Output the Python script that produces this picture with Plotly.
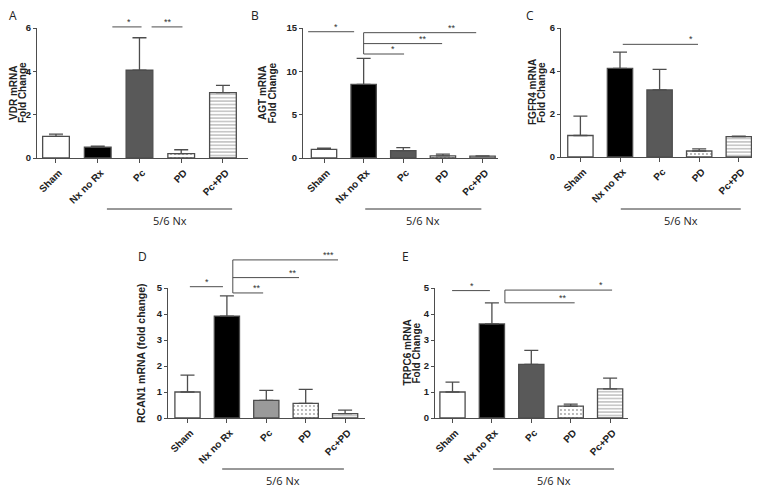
import plotly.graph_objects as go

W, H = 760, 487
OFF = 8  # the page places the figure 8 px in from the top-left corner

categories = ["Sham", "Nx no Rx", "Pc", "PD", "Pc+PD"]

vdr_mean = [1.0, 0.5, 4.05, 0.2, 3.02]
vdr_err = [0.1, 0.05, 1.5, 0.18, 0.33]

agt_mean = [1.0, 8.5, 0.85, 0.25, 0.22]
agt_err = [0.15, 3.0, 0.35, 0.2, 0.03]

fgfr4_mean = [1.0, 4.12, 3.12, 0.28, 0.95]
fgfr4_err = [0.9, 0.76, 0.96, 0.1, 0.02]

rcan1_mean = [1.0, 3.92, 0.68, 0.56, 0.17]
rcan1_err = [0.65, 0.78, 0.38, 0.54, 0.13]

trpc6_mean = [1.0, 3.62, 2.06, 0.46, 1.12]
trpc6_err = [0.38, 0.81, 0.54, 0.07, 0.41]

# significance: horizontal lines (x0, x1, y), star labels (x, y, text), vertical lines (x, y0, y1)
sig_A = dict(h=[(1.35, 2.05, 6.05), (2.29, 3.03, 6.05)],
             s=[(1.75, 6.05, "*"), (2.68, 6.05, "**")], v=[])
sig_B = dict(h=[(-0.4, 0.76, 14.57), (1.0, 3.84, 14.46), (1.0, 2.98, 13.2), (1.0, 2.02, 12.0)],
             s=[(0.3, 14.57, "*"), (3.23, 14.46, "**"), (2.5, 13.2, "**"), (1.75, 12.0, "*")],
             v=[(1.0, 12.0, 14.46)])
sig_C = dict(h=[(1.07, 2.97, 5.24)], s=[(2.8, 5.24, "*")], v=[])
sig_D = dict(h=[(0.06, 0.9, 5.05), (1.15, 3.82, 6.08), (1.15, 2.83, 5.4), (1.15, 1.92, 4.81)],
             s=[(0.5, 5.05, "*"), (3.59, 6.08, "***"), (2.68, 5.4, "**"), (1.76, 4.81, "**")],
             v=[(1.15, 4.81, 6.08)])
sig_E = dict(h=[(-0.01, 0.95, 4.9), (1.33, 4.05, 4.92), (1.33, 3.1, 4.43)],
             s=[(0.5, 4.9, "*"), (3.77, 4.92, "*"), (2.8, 4.43, "**")],
             v=[(1.33, 4.43, 4.92)])

panels = [
    dict(letter="A", mean=vdr_mean, err=vdr_err, ymax=6, dtick=2,
         titles=["VDR mRNA", "Fold Change"], title_xs=[14, 23], tsize=10, pc_color="#595959",
         px=(37, 248), py=(158, 28), xr=(-0.455, 4.6), sig=sig_A,
         letter_pos=(13, 15), nx_range=(1.22, 4.22), nx_y=209),
    dict(letter="B", mean=agt_mean, err=agt_err, ymax=15, dtick=5,
         titles=["AGT mRNA", "Fold Change"], title_xs=[263, 272.5], tsize=10, pc_color="#595959",
         px=(303, 498), py=(158, 28), xr=(-0.53, 4.39), sig=sig_B,
         letter_pos=(255, 15), nx_range=(1.04, 3.97), nx_y=209),
    dict(letter="C", mean=fgfr4_mean, err=fgfr4_err, ymax=6, dtick=2,
         titles=["FGFR4 mRNA", "Fold Change"], title_xs=[532.5, 541.5], tsize=10, pc_color="#595959",
         px=(561, 757), py=(157, 28), xr=(-0.49, 4.46), sig=sig_C,
         letter_pos=(530, 15), nx_range=(1.02, 4.05), nx_y=209),
    dict(letter="D", mean=rcan1_mean, err=rcan1_err, ymax=5, dtick=1,
         titles=["RCAN1 mRNA (fold change)"], title_xs=[141], tsize=10.5, pc_color="#9a9a9a",
         px=(168, 365), py=(418, 288), xr=(-0.495, 4.505), sig=sig_D,
         letter_pos=(142, 256), nx_range=(0.88, 3.97), nx_y=469),
    dict(letter="E", mean=trpc6_mean, err=trpc6_err, ymax=5, dtick=1,
         titles=["TRPC6 mRNA", "Fold Change"], title_xs=[406.5, 415.5], tsize=10, pc_color="#595959",
         px=(435, 628), py=(418, 288), xr=(-0.444, 4.454), sig=sig_E,
         letter_pos=(405, 256), nx_range=(1.03, 4.1), nx_y=469),
]


def fx(px):
    return (px - OFF) / W


def fy(py):
    return 1 - (py - OFF) / H


FONT = "Liberation Sans, Arial, sans-serif"
LINE = "#4d4d4d"

fig = go.Figure()
layout = dict(width=W, height=H, margin=dict(l=0, r=0, t=0, b=0, autoexpand=False),
              paper_bgcolor="white", plot_bgcolor="white", showlegend=False,
              font=dict(family=FONT, color="#222"))
shapes, annotations = [], []

for i, p in enumerate(panels):
    n = "" if i == 0 else str(i + 1)
    xa, ya = "x" + n, "y" + n
    xkey, ykey = "xaxis" + n, "yaxis" + n
    xs = list(range(len(categories)))
    colors = ["white", "black", p["pc_color"], "white", "white"]
    pat_shapes = ["", "", "", ".", "-"]
    fig.add_trace(go.Bar(
        x=xs, y=p["mean"], width=0.64, xaxis=xa, yaxis=ya,
        marker=dict(color=colors, line=dict(color=LINE, width=1.3),
                    pattern=dict(shape=pat_shapes, fgcolor="#8a8a8a", bgcolor="white",
                                 size=[8, 8, 8, 4, 3.4], solidity=[0.3, 0.3, 0.3, 0.18, 0.3])),
        error_y=dict(type="data", symmetric=False, array=p["err"],
                     arrayminus=[0] * len(categories), color=LINE, thickness=1.3, width=7),
        hoverinfo="skip"))
    dx = [fx(p["px"][0]), fx(p["px"][1])]
    dy = [fy(p["py"][0]), fy(p["py"][1])]
    layout[xkey] = dict(domain=dx, range=list(p["xr"]), anchor=ya, tickmode="array",
                        tickvals=xs, ticktext=categories, tickangle=-45, automargin=False,
                        ticklabelshift=3,
                        ticks="outside", ticklen=4, tickcolor=LINE, showline=True,
                        linecolor=LINE, linewidth=1.2, showgrid=False, zeroline=False,
                        tickfont=dict(size=10, family=FONT, weight="bold", color="#222"))
    layout[ykey] = dict(domain=dy, range=[0, p["ymax"]], anchor=xa, dtick=p["dtick"],
                        ticks="outside", ticklen=3, tickcolor=LINE, showline=True, automargin=False,
                        linecolor=LINE, linewidth=1.2, showgrid=False, zeroline=False,
                        tickfont=dict(size=9.5, family=FONT, weight="bold", color="#222"))
    ymax = p["ymax"]
    sig = p["sig"]
    for (x0, x1, yv) in sig["h"]:
        shapes.append(dict(type="line", xref=xa, yref=ya + " domain", x0=x0, x1=x1,
                           y0=yv / ymax, y1=yv / ymax, line=dict(color=LINE, width=1)))
    for (xv, y0, y1) in sig["v"]:
        shapes.append(dict(type="line", xref=xa, yref=ya + " domain", x0=xv, x1=xv,
                           y0=y0 / ymax, y1=y1 / ymax, line=dict(color=LINE, width=1)))
    for (xv, yv, txt) in sig["s"]:
        annotations.append(dict(xref=xa, yref=ya + " domain", x=xv, y=yv / ymax, text=txt,
                                showarrow=False, yanchor="bottom", yshift=-2,
                                font=dict(size=9, color="#333", family=FONT)))
    # 5/6 Nx group line
    ny = fy(p["nx_y"])
    shapes.append(dict(type="line", xref=xa, yref="paper", x0=p["nx_range"][0],
                       x1=p["nx_range"][1], y0=ny, y1=ny, line=dict(color="#333", width=1)))
    annotations.append(dict(xref=xa, yref="paper", x=(p["nx_range"][0] + p["nx_range"][1]) / 2,
                            y=ny, yshift=-2, text="5/6 Nx", showarrow=False, yanchor="top",
                            font=dict(size=11, color="#222", family="Open Sans, sans-serif")))
    # panel letter
    annotations.append(dict(xref="paper", yref="paper", x=fx(p["letter_pos"][0]),
                            y=fy(p["letter_pos"][1]), text=p["letter"], showarrow=False,
                            xanchor="center", yanchor="middle",
                            font=dict(size=12, color="#222", family="Open Sans, sans-serif")))
    # y-axis title, one annotation per line
    for t, tx in zip(p["titles"], p["title_xs"]):
        annotations.append(dict(xref="paper", yref="paper", x=fx(tx),
                                y=(dy[0] + dy[1]) / 2, text="<b>%s</b>" % t, showarrow=False,
                                textangle=-90, xanchor="center", yanchor="middle",
                                font=dict(size=p["tsize"], color="#222", family=FONT)))

layout["shapes"] = shapes
layout["annotations"] = annotations
fig.update_layout(**layout)
fig.write_html("out.html")
